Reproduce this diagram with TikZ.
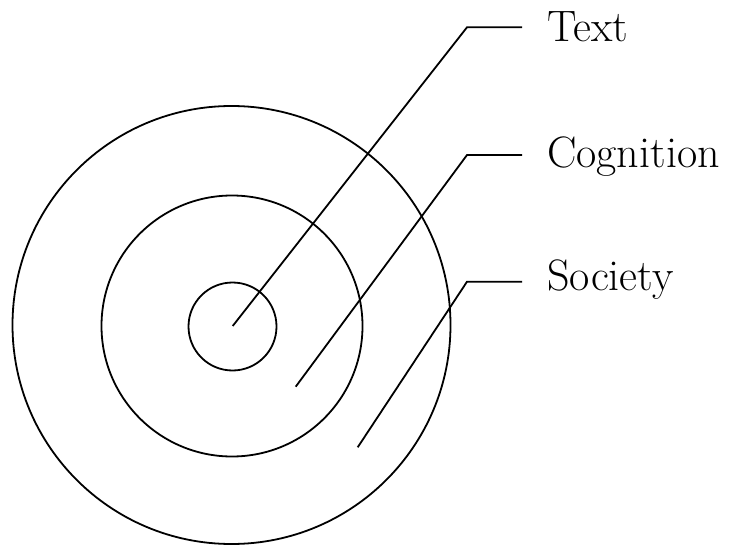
\documentclass[tikz,border=0pt]{standalone}
\begin{document}
\begin{tikzpicture}[x=1pt,y=-1pt,
  ring/.style={circle,draw,line width=1.8pt,inner sep=0pt},
  leader/.style={line width=1.8pt,line join=miter},
  lbl/.style={anchor=base west,inner sep=0pt,font=\fontsize{44}{52}\selectfont}]
\useasboundingbox (0,0) rectangle (738,545);
\node[ring,minimum size=438pt] (outer) at (231.5,325) {};
\node[ring,minimum size=261pt] (middle) at (232,326) {};
\node[ring,minimum size=88pt] (inner) at (232.5,326.5) {};
\node[lbl] (ltext) at (547,41.7) {Text};
\node[lbl] (lcog) at (547,168) {Cognition};
\node[lbl] (lsoc) at (547,290) {Society};
\coordinate (s1) at (232.7,326);
\coordinate (k1) at (467,27.3);
\coordinate (e1) at (522,27.3);
\coordinate (s2) at (295.7,386.7);
\coordinate (k2) at (467,155);
\coordinate (e2) at (522,155);
\coordinate (s3) at (357.7,447.3);
\coordinate (k3) at (467,281.7);
\coordinate (e3) at (522,281.7);
\draw[leader] (s1) -- (k1) -- (e1);
\draw[leader] (s2) -- (k2) -- (e2);
\draw[leader] (s3) -- (k3) -- (e3);
\end{tikzpicture}
\end{document}
